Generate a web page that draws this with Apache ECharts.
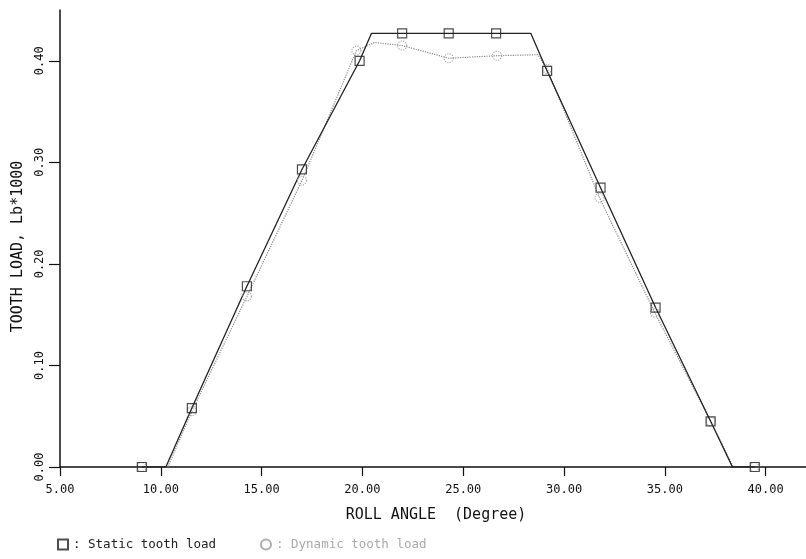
<!DOCTYPE html>
<html><head><meta charset="utf-8">
<script src="https://cdn.jsdelivr.net/npm/echarts@6/dist/echarts.min.js"></script>
<style>html,body{margin:0;padding:0;background:#fff}#c{width:806px;height:559px}</style>
</head><body><div id="c"></div>
<script>
// Static tooth load: line vertices and marker positions (roll angle, load Lb*1000)
const staticLineX = [9.06, 10.25, 11.54, 14.27, 17.0, 19.86, 20.45, 21.97, 24.28, 26.63, 28.35, 29.16, 31.81, 34.54, 37.27, 38.35, 39.46];
const staticLineY = [0, 0, 0.058, 0.178, 0.293, 0.400, 0.427, 0.427, 0.427, 0.427, 0.427, 0.390, 0.275, 0.157, 0.045, 0, 0];
const staticMarkX = [9.06, 11.54, 14.27, 17.0, 19.86, 21.97, 24.28, 26.63, 29.16, 31.81, 34.54, 37.27, 39.46];
const staticMarkY = [0, 0.058, 0.178, 0.293, 0.400, 0.427, 0.427, 0.427, 0.390, 0.275, 0.157, 0.045, 0];
// Dynamic tooth load
const dynamicLineX = [9.06, 10.35, 11.54, 14.27, 17.0, 19.7, 20.6, 21.97, 24.28, 26.68, 28.7, 29.16, 31.76, 34.5, 37.27, 38.4, 39.46];
const dynamicLineY = [0, 0, 0.055, 0.168, 0.282, 0.410, 0.418, 0.415, 0.4025, 0.405, 0.406, 0.392, 0.265, 0.152, 0.045, 0, 0];
const dynamicMarkX = [9.06, 11.54, 14.27, 17.0, 19.7, 21.97, 24.28, 26.68, 29.16, 31.76, 34.5, 37.27, 39.46];
const dynamicMarkY = [0, 0.055, 0.168, 0.282, 0.410, 0.415, 0.4025, 0.405, 0.392, 0.265, 0.152, 0.045, 0];
// Axis ticks
const xTicks = [5, 10, 15, 20, 25, 30, 35, 40];
const yTicks = [0, 0.1, 0.2, 0.3, 0.4];
const seriesNames = ['Static tooth load', 'Dynamic tooth load'];

const zip = (a, b) => a.map((v, i) => [v, b[i]]);
const FONT = 'DejaVu Sans Mono';

const chart = echarts.init(document.getElementById('c'), null, {renderer: 'canvas'});
chart.setOption({
  backgroundColor: '#fff',
  animation: false,
  textStyle: {fontFamily: FONT},
  grid: {left: 60, right: 0, top: 10, bottom: 92, containLabel: false},
  xAxis: {
    type: 'value', min: 5, max: 42, interval: 5,
    name: 'ROLL ANGLE  (Degree)', nameLocation: 'middle', nameGap: 41,
    nameTextStyle: {fontFamily: FONT, fontSize: 15, color: '#111', padding: [0, 0, 0, 6]},
    axisLine: {show: true, onZero: false, lineStyle: {color: '#111', width: 1.5}},
    axisTick: {show: true, inside: false, length: 9, customValues: xTicks, lineStyle: {color: '#111', width: 1.2}},
    axisLabel: {show: true, margin: 17, fontFamily: FONT, fontSize: 12, color: '#111', customValues: xTicks,
      formatter: v => v.toFixed(2)},
    splitLine: {show: false}
  },
  yAxis: {
    type: 'value', min: 0, max: 0.45, interval: 0.1,
    name: 'TOOTH LOAD, Lb*1000', nameLocation: 'middle', nameGap: 32,
    nameTextStyle: {fontFamily: FONT, fontSize: 15, color: '#111', padding: [0, 16, 0, 0]},
    axisLine: {show: true, onZero: false, lineStyle: {color: '#111', width: 1.5}},
    axisTick: {show: true, inside: false, length: 11, customValues: yTicks, lineStyle: {color: '#111', width: 1.2}},
    axisLabel: {show: true, rotate: 90, margin: 14, fontFamily: FONT, fontSize: 12, color: '#111', customValues: yTicks,
      formatter: v => v.toFixed(2)},
    splitLine: {show: false}
  },
  legend: {
    left: 52, bottom: 3, itemGap: 44, itemWidth: 10, itemHeight: 10,
    data: [
      {name: seriesNames[0], icon: 'rect', textStyle: {color: '#222'}},
      {name: seriesNames[1], icon: 'circle', textStyle: {color: '#aaa'}}
    ],
    textStyle: {fontFamily: FONT, fontSize: 12.5},
    formatter: n => ': ' + n
  },
  series: [
    {
      name: seriesNames[1] + ' line', type: 'line', data: zip(dynamicLineX, dynamicLineY),
      showSymbol: false, lineStyle: {color: '#888', width: 1.2, type: 'dotted'}, z: 2
    },
    {
      name: seriesNames[0] + ' line', type: 'line', data: zip(staticLineX, staticLineY),
      showSymbol: false, lineStyle: {color: '#222', width: 1.3}, z: 3
    },
    {
      name: seriesNames[1], type: 'scatter', data: zip(dynamicMarkX, dynamicMarkY),
      symbol: 'circle', symbolSize: 9,
      itemStyle: {color: 'rgba(255,255,255,0)', borderColor: '#999', borderWidth: 1.2, borderType: 'dotted'}, z: 4
    },
    {
      name: seriesNames[0], type: 'scatter', data: zip(staticMarkX, staticMarkY),
      symbol: 'rect', symbolSize: 9,
      itemStyle: {color: 'rgba(255,255,255,0)', borderColor: '#222', borderWidth: 1.2}, z: 5
    }
  ]
});
</script></body></html>
